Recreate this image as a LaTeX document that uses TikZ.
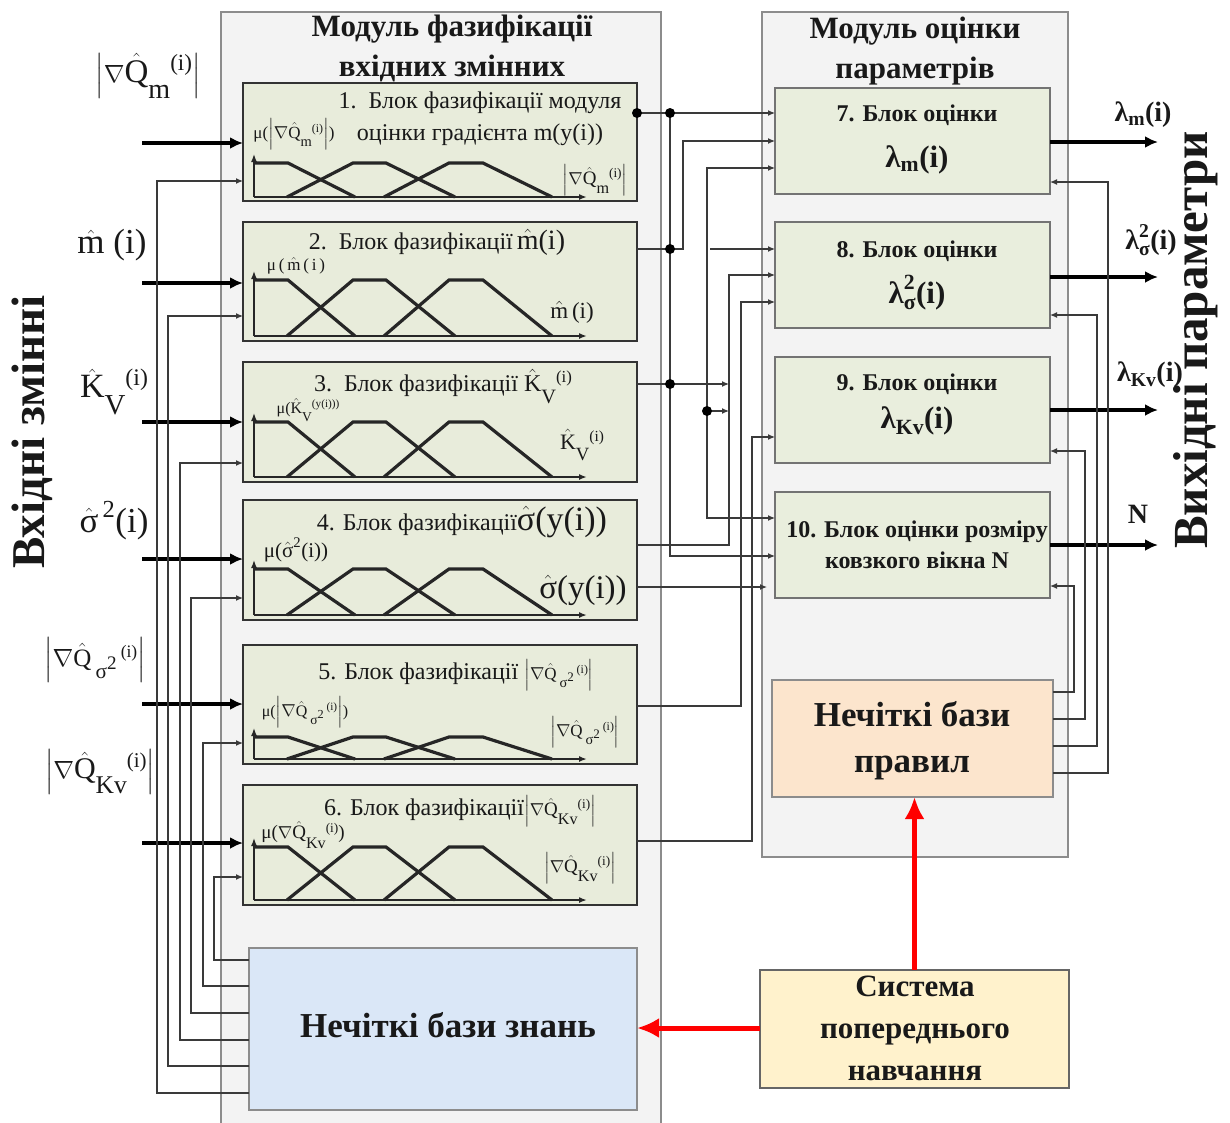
\documentclass[tikz,border=0pt]{standalone}
\usepackage{fontspec}
\usepackage{amsmath}
\usepackage{graphicx}
\setmainfont{Liberation Serif}
\usetikzlibrary{arrows.meta}
\definecolor{modfill}{HTML}{F3F3F3}
\definecolor{modline}{HTML}{8C8C8C}
\definecolor{fzfill}{HTML}{E8ECDB}
\definecolor{estfill}{HTML}{E9EEDD}
\definecolor{kbfill}{HTML}{DAE7F7}
\definecolor{rbfill}{HTML}{FCE5CD}
\definecolor{sysfill}{HTML}{FFF2CC}
\definecolor{wirec}{HTML}{3A3A3A}
\newcommand\Qhat{\hat{\text{Q}}}
\newcommand\mhat{\hat{\text{m}}}
\newcommand\Khat{\hat{\text{K}}}
\newcommand\sighat{\hat{\text{σ}}}
\newcommand\fsz[1]{\fontsize{#1}{#1}\selectfont}
\newcommand\lowx[1]{\raisebox{-0.5em}{\scalebox{0.85}{#1}}}
\newcommand\highx[1]{\raisebox{0.35em}{\scalebox{0.7}{#1}}}
\newcommand\gradm{\ensuremath{\left|\nabla\Qhat\lowx{m}\highx{(i)}\right|}}
\newcommand\grads{\ensuremath{\left|\nabla\Qhat\,\lowx{σ\raisebox{0.45em}{\scalebox{0.9}{2}}}\,\highx{(i)}\right|}}
\newcommand\gradk{\ensuremath{\left|\nabla\Qhat\lowx{Kv}\highx{(i)}\right|}}
\newcommand\mfplot[2]{%
  \draw[mfline] (254,#1) -- (288,#1) -- (355,#2);
  \draw[mfline] (287,#2) -- (353,#1) -- (386,#1) -- (455,#2);
  \draw[mfline] (384,#2) -- (449,#1) -- (483,#1) -- (552,#2);
  \draw[axisl] (254,#2) -- (587,#2);
  \draw[axisv] (254,#2) -- (254,#1-9);
}
\begin{document}
\begin{tikzpicture}[x=1pt,y=-1pt,
  box/.style={rectangle, anchor=north west, inner sep=0pt, outer sep=0pt},
  module/.style={box, fill=modfill, draw=modline, line width=1.5pt},
  fzbox/.style={box, fill=fzfill, draw=black!80, line width=2.6pt, minimum width=394pt},
  estbox/.style={box, fill=estfill, draw=black!55, line width=1.4pt, minimum width=275pt, minimum height=106pt},
  wire/.style={draw=wirec, line width=1.2pt},
  warr/.style={wire, -{Latex[length=7pt,width=6pt]}},
  bigarr/.style={line width=3.6pt, -{Latex[length=13pt,width=12pt]}},
  redarr/.style={draw=red, line width=5pt, -{Latex[length=22pt,width=20pt]}},
  jdot/.style={circle, fill=black, inner sep=0pt, minimum size=10pt},
  mfline/.style={line width=3.2pt, draw=black!85},
  axisl/.style={line width=2pt, draw=black!85, -{Latex[length=8pt,width=6pt]}},
  axisv/.style={line width=1.4pt, draw=black!85, -{Latex[length=8pt,width=6pt]}},
  txt/.style={inner sep=0pt, text=black!90},
  t24/.style={txt, text height=17.8pt, text depth=5.3pt, font=\fsz{24}},
  t31/.style={txt, text height=23pt, text depth=6.8pt, font=\bfseries\fsz{31}},
  t35/.style={txt, text height=26pt, text depth=7.7pt, font=\bfseries\fsz{35}},
  ttl/.style={t31},
  fzt/.style={t24},
  estt/.style={t24, font=\bfseries\fsz{24}},
  mul/.style={txt, font=\fsz{17}},
  axl/.style={txt, font=\fsz{20}},
  estl/.style={txt, font=\bfseries\fsz{31}},
  inl/.style={txt, font=\fsz{33}},
  outl/.style={txt, font=\bfseries\fsz{28}}
]
\useasboundingbox (0,0) rectangle (1230,1122);
\fill[white] (0,0) rectangle (1230,1122);

% modules
\node[module, minimum width=440pt, minimum height=1115pt] (lm) at (221,12) {};
\node[module, minimum width=306pt, minimum height=845pt] (rm) at (762,12) {};
\node[ttl] (lmt1) at (452,28) {Модуль фазифікації};
\node[ttl] (lmt2) at (452,68) {вхідних змінних};
\node[ttl] (rmt1) at (915,30) {Модуль оцінки};
\node[ttl] (rmt2) at (915,70) {параметрів};

% fuzzification blocks
\node[fzbox, minimum height=118pt] (b1) at (243,83) {};
\node[fzbox, minimum height=119pt] (b2) at (243,222) {};
\node[fzbox, minimum height=120pt] (b3) at (243,362) {};
\node[fzbox, minimum height=120pt] (b4) at (243,500) {};
\node[fzbox, minimum height=119pt] (b5) at (243,645) {};
\node[fzbox, minimum height=120pt] (b6) at (243,785) {};
\node[box, fill=kbfill, draw=black!45, line width=1.2pt, minimum width=388pt, minimum height=162pt] (kb) at (249,948) {};

\mfplot{163}{197}
\mfplot{280}{336}
\mfplot{422}{477}
\mfplot{569}{615}
\mfplot{737}{759}
\mfplot{847}{900}

% block texts
\node[fzt] (t1a) at (480,102) {1.\ \ Блок фазифікації модуля};
\node[fzt] (t1b) at (480,134) {оцінки градієнта m(y(i))};
\node[mul] (m1) at (294,134) {μ(\gradm)};
\node[axl, font=\fsz{19}] (a1) at (595,180) {\gradm};

\node[fzt] (t2) at (437,243) {2.\ \ Блок фазифікації\,{\fsz{28}\(\mhat\)(i)}};
\node[mul] (m2) at (296,266) {μ\,(\,\(\mhat\)\,(\,i\,)};
\node[axl, font=\fsz{23}] (a2) at (572,312) {\(\mhat\)\,(i)};

\node[fzt] (t3) at (443,385) {3.\ \ Блок фазифікації \(\Khat\lowx{V}\highx{(i)}\)};
\node[mul, font=\fsz{16}] (m3) at (308,410) {μ(\(\Khat\)\lowx{V}\highx{(y(i)))}};
\node[axl, font=\fsz{22}] (a3) at (582,445) {\(\Khat\)\lowx{V}\highx{(i)}};

\node[fzt] (t4) at (462,524) {4. Блок фазифікації{\fsz{34}\(\sighat\)(y(i))}};
\node[mul, font=\fsz{21}] (m4) at (296,550) {μ(\(\sighat^{\text{2}}\)(i))};
\node[axl, font=\fsz{33}] (a4) at (583,590) {\(\sighat\)(y(i))};

\node[fzt] (t5) at (456,673) {5. Блок фазифікації {\fsz{17}\grads}};
\node[mul, font=\fsz{16}] (m5) at (305,712) {μ(\grads)};
\node[axl, font=\fsz{17}] (a5) at (585,732) {\grads};

\node[fzt] (t6) at (460,809) {6. Блок фазифікації{\fsz{19}\gradk}};
\node[mul, font=\fsz{19}] (m6) at (303,835) {μ(\(\nabla\Qhat\)\lowx{Kv}\highx{(i)})};
\node[axl, font=\fsz{19}] (a6) at (580,868) {\gradk};

\node[t35] (kbt) at (448,1028) {Нечіткі бази знань};

% estimation blocks
\node[estbox] (b7) at (775,88) {};
\node[estbox] (b8) at (775,222) {};
\node[estbox] (b9) at (775,357) {};
\node[estbox] (b10) at (775,492) {};
\node[box, fill=rbfill, draw=black!45, line width=1.2pt, minimum width=281pt, minimum height=117pt] (rb) at (772,680) {};
\node[box, fill=sysfill, draw=black!60, line width=1.4pt, minimum width=309pt, minimum height=118pt] (sys) at (760,970) {};

\node[estt] (t7a) at (917,115) {7. Блок оцінки};
\node[estl] (t7b) at (917,160) {λ\textsubscript{m}(i)};
\node[estt] (t8a) at (917,251) {8. Блок оцінки};
\node[estl] (t8b) at (917,293) {\(\text{λ}_{\text{σ}}^{\text{2}}\)(i)};
\node[estt] (t9a) at (917,384) {9. Блок оцінки};
\node[estl] (t9b) at (917,421) {λ\textsubscript{Kv}(i)};
\node[estt] (t10a) at (917,531) {10. Блок оцінки розміру};
\node[estt] (t10b) at (917,562) {ковзкого вікна N};
\node[t35] (rbt1) at (912,717) {Нечіткі бази};
\node[t35] (rbt2) at (912,763) {правил};
\node[t31] (syst1) at (915,988) {Система};
\node[t31] (syst2) at (915,1030) {попереднього};
\node[t31] (syst3) at (915,1072) {навчання};

% side titles
\node[txt, rotate=90, font=\bfseries\fsz{47}] (vin) at (32,432) {Вхідні змінні};
\node[txt, rotate=90, font=\bfseries\fsz{49}] (vout) at (1196,340) {Вихідні параметри};

% input labels
\node[inl] (l1) at (148,76) {\gradm};
\node[inl, font=\fsz{35}] (l2) at (112,245) {\(\mhat\) (i)};
\node[inl, font=\fsz{34}] (l3) at (114,392) {\(\Khat\)\lowx{V}\highx{(i)}};
\node[inl, font=\fsz{35}] (l4) at (114,521) {\(\sighat^{\,\text{2}}\)(i)};
\node[inl, font=\fsz{25}] (l5) at (95,660) {\grads};
\node[inl, font=\fsz{30}] (l6) at (100,772) {\gradk};

% output labels
\node[outl] (o1) at (1143,115) {λ\textsubscript{m}(i)};
\node[outl] (o2) at (1151,240) {\(\text{λ}_{\text{σ}}^{\text{2}}\)(i)};
\node[outl] (o3) at (1150,375) {λ\textsubscript{Kv}(i)};
\node[outl] (o4) at (1138,514) {N};

% input thick arrows
\coordinate (i1) at (142,143);
\coordinate (i2) at (142,283);
\coordinate (i3) at (142,422);
\coordinate (i4) at (142,559);
\coordinate (i5) at (142,704);
\coordinate (i6) at (142,843);
\draw[bigarr] (i1) -- (i1 -| b1.west);
\draw[bigarr] (i2) -- (i2 -| b2.west);
\draw[bigarr] (i3) -- (i3 -| b3.west);
\draw[bigarr] (i4) -- (i4 -| b4.west);
\draw[bigarr] (i5) -- (i5 -| b5.west);
\draw[bigarr] (i6) -- (i6 -| b6.west);

% knowledge base feedback wires
\draw[warr] (kb.west |- 0,960) -- (214,960) -- (214,877) -- (b6.west |- 0,877);
\draw[warr] (kb.west |- 0,986) -- (203,986) -- (203,743) -- (b5.west |- 0,743);
\draw[warr] (kb.west |- 0,1013) -- (191,1013) -- (191,598) -- (b4.west |- 0,598);
\draw[warr] (kb.west |- 0,1040) -- (180,1040) -- (180,463) -- (b3.west |- 0,463);
\draw[warr] (kb.west |- 0,1066) -- (168,1066) -- (168,316) -- (b2.west |- 0,316);
\draw[warr] (kb.west |- 0,1093) -- (157,1093) -- (157,181) -- (b1.west |- 0,181);

% outputs
\coordinate (q7) at (1158,142);
\coordinate (q8) at (1158,277);
\coordinate (q9) at (1158,410);
\coordinate (q10) at (1158,545);
\draw[bigarr] (q7 -| b7.east) -- (q7);
\draw[bigarr] (q8 -| b8.east) -- (q8);
\draw[bigarr] (q9 -| b9.east) -- (q9);
\draw[bigarr] (q10 -| b10.east) -- (q10);

% rule base feedback
\draw[warr] (rb.east |- 0,773) -- (1108,773) -- (1108,182) -- (b7.east |- 0,182);
\draw[warr] (rb.east |- 0,746) -- (1097,746) -- (1097,315) -- (b8.east |- 0,315);
\draw[warr] (rb.east |- 0,719) -- (1085,719) -- (1085,451) -- (b9.east |- 0,451);
\draw[warr] (rb.east |- 0,692) -- (1074,692) -- (1074,586) -- (b10.east |- 0,586);

% fuzzification -> estimation wires
\draw[warr] (b1.east |- 0,113) -- (b7.west |- 0,113);
\draw[warr] (670,113) -- (670,556) -- (b10.west |- 0,556);
\draw[warr] (b2.east |- 0,249) -- (683,249) -- (683,141) -- (b7.west |- 0,141);
\coordinate (s8) at (710,249);
\draw[warr] (s8) -- (s8 -| b8.west);
\draw[wire, {Latex[length=7pt,width=6pt]}-{Latex[length=7pt,width=6pt]}] (b7.west |- 0,168) -- (707,168) -- (707,518) -- (b10.west |- 0,518);
\draw[warr] (b3.east |- 0,384) -- (729,384);
\draw[warr] (707,411) -- (729,411);
\draw[warr] (b4.east |- 0,545) -- (729,545) -- (729,275) -- (b8.west |- 0,275);
\coordinate (e4) at (767,587);
\draw[warr] (b4.east |- e4) -- (e4);
\draw[warr] (b5.east |- 0,706) -- (741,706) -- (741,302) -- (b8.west |- 0,302);
\draw[warr] (b6.east |- 0,841) -- (752,841) -- (752,437) -- (b9.west |- 0,437);

\node[jdot] (d1) at (637,113) {};
\node[jdot] (d2) at (670,113) {};
\node[jdot] (d3) at (670,249) {};
\node[jdot] (d4) at (670,384) {};
\node[jdot] (d5) at (707,411) {};

% red arrows
\draw[redarr] (sys.north) -- (sys.north |- rb.south);
\draw[redarr] (sys.west |- 0,1028) -- (kb.east |- 0,1028);
\end{tikzpicture}
\end{document}
